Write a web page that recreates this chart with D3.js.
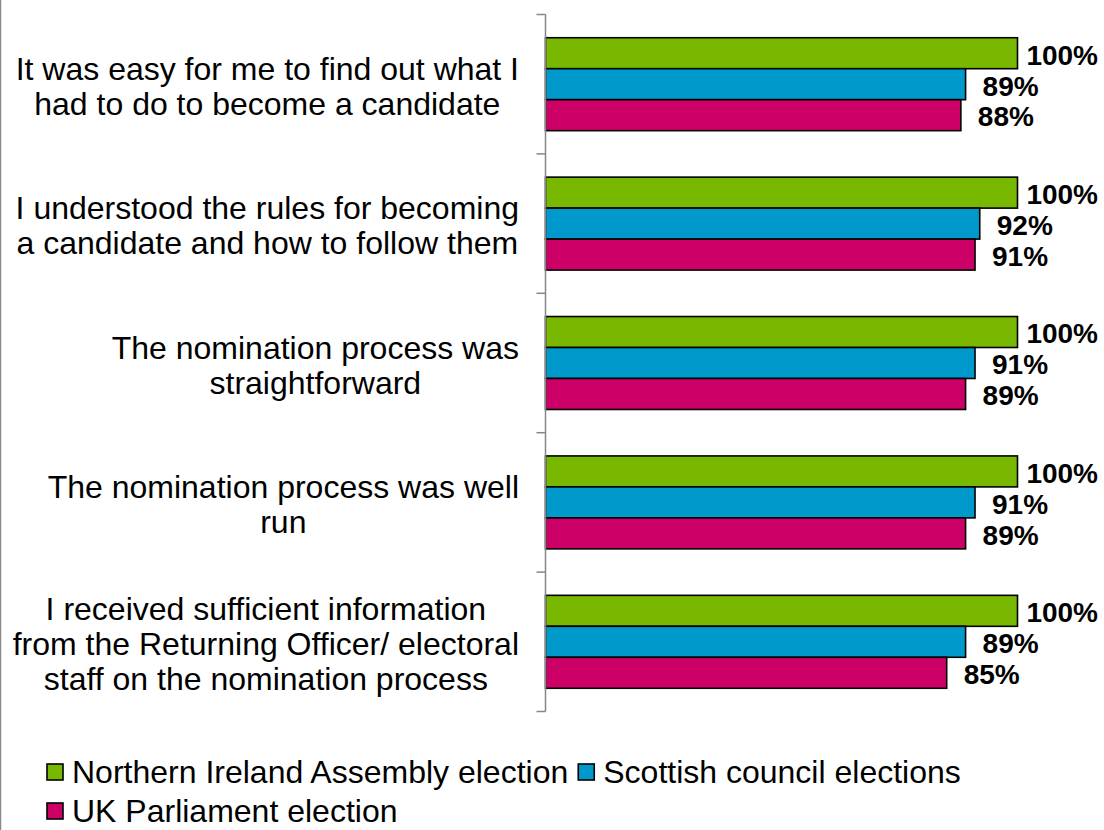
<!DOCTYPE html>
<html>
<head>
<meta charset="utf-8">
<script src="https://cdn.jsdelivr.net/npm/d3@7"></script>
<style>
  html, body { margin: 0; padding: 0; background: #fff; }
  svg { display: block; font-family: "Liberation Sans", Arial, sans-serif; }
</style>
</head>
<body>
<svg id="chart" width="1104" height="830"></svg>
<script>
// Survey statements (each entry is the wrapped lines of one label)
const statements = [
  ["It was easy for me to find out what I", "had to do to become a candidate"],
  ["I understood the rules for becoming", "a candidate and how to follow them"],
  ["The nomination process was", "straightforward"],
  ["The nomination process was well", "run"],
  ["I received sufficient information", "from the Returning Officer/ electoral", "staff on the nomination process"]
];

const seriesNames = [
  "Northern Ireland Assembly election",
  "Scottish council elections",
  "UK Parliament election"
];

// Share agreeing, per statement, for each election
const northernIreland = [1.00, 1.00, 1.00, 1.00, 1.00];
const scottishCouncil = [0.89, 0.92, 0.91, 0.91, 0.89];
const ukParliament   = [0.88, 0.91, 0.89, 0.89, 0.85];

const seriesValues = [northernIreland, scottishCouncil, ukParliament];
const seriesColors = ["#78b800", "#0099cc", "#cc0066"];

const svg = d3.select("#chart");
const W = 1104, H = 830;

// left frame edge of the chart area
svg.append("line")
  .attr("x1", 0.5).attr("x2", 0.5).attr("y1", 0).attr("y2", H)
  .attr("stroke", "#8c8c8c").attr("stroke-width", 1.5);

const axisX = 545.5;
const x = d3.scaleLinear().domain([0, 1]).range([axisX, 1017.5]);

const catIdx = d3.range(statements.length);
const y = d3.scaleBand().domain(catIdx).range([14.5, 711.5]).padding(0);
const ySeries = d3.scaleBand().domain(d3.range(seriesNames.length))
  .range([0, y.bandwidth()]).paddingInner(0).paddingOuter(0.75);

// bars
const groups = svg.append("g").selectAll("g")
  .data(catIdx).join("g")
  .attr("transform", i => `translate(0,${y(i)})`);

groups.selectAll("rect")
  .data(i => seriesValues.map((vals, s) => ({ s, v: vals[i] })))
  .join("rect")
  .attr("x", axisX)
  .attr("y", d => ySeries(d.s))
  .attr("width", d => x(d.v) - axisX)
  .attr("height", ySeries.bandwidth())
  .attr("fill", d => seriesColors[d.s])
  .attr("stroke", "#000")
  .attr("stroke-width", 1.6);

// value labels
const fmt = d3.format(".0%");
groups.selectAll("text.val")
  .data(i => seriesValues.map((vals, s) => ({ s, v: vals[i] })))
  .join("text")
  .attr("class", "val")
  .attr("y", d => ySeries(d.s) + ySeries.bandwidth() / 2 + 1.5)
  .attr("dy", "0.35em")
  .attr("font-size", 28)
  .attr("font-weight", "bold")
  .attr("fill", "#000")
  .text(d => fmt(d.v))
  .each(function (d) {
    const w = this.getComputedTextLength();
    const xPos = Math.min(x(d.v) + 17, 1098 - w);
    d3.select(this).attr("x", xPos);
  });

// category axis: vertical line with ticks at the band boundaries
const axisG = svg.append("g");
axisG.append("line")
  .attr("x1", axisX).attr("x2", axisX)
  .attr("y1", y.range()[0]).attr("y2", y.range()[1])
  .attr("stroke", "#868686").attr("stroke-width", 1.5);
const tickPos = catIdx.map(i => y(i)).concat([y.range()[1]]);
axisG.selectAll("line.tick")
  .data(tickPos).join("line")
  .attr("class", "tick")
  .attr("x1", axisX - 9).attr("x2", axisX)
  .attr("y1", d => d).attr("y2", d => d)
  .attr("stroke", "#868686").attr("stroke-width", 1.5);

// category labels: block right-aligned beside the axis, lines centred within the block
const labelRight = 519;
const lineH = 35;
const labels = svg.append("g").selectAll("g")
  .data(catIdx).join("g");
labels.each(function (i) {
  const g = d3.select(this);
  const lines = statements[i];
  const cy = y(i) + y.bandwidth() / 2 + 2;
  const texts = g.selectAll("text").data(lines).join("text")
    .attr("font-size", 32)
    .attr("fill", "#000")
    .attr("text-anchor", "middle")
    .attr("dy", "0.35em")
    .attr("y", (d, k) => cy + (k - (lines.length - 1) / 2) * lineH)
    .text(d => d);
  let maxW = 0;
  texts.each(function () { maxW = Math.max(maxW, this.getComputedTextLength()); });
  texts.attr("x", labelRight - maxW / 2);
});

// legend
const legend = svg.append("g");
const legendRows = [[0, 1], [2]];
const rowY = [772, 811];
legendRows.forEach((row, r) => {
  let cx = 47;
  row.forEach(s => {
    legend.append("rect")
      .attr("x", cx).attr("y", rowY[r] - 8)
      .attr("width", 16).attr("height", 16)
      .attr("fill", seriesColors[s])
      .attr("stroke", "#000").attr("stroke-width", 1.6);
    const t = legend.append("text")
      .attr("x", cx + 25).attr("y", rowY[r])
      .attr("dy", "0.35em")
      .attr("font-size", 32)
      .attr("fill", "#000")
      .text(seriesNames[s]);
    cx = cx + 25 + t.node().getComputedTextLength() + 10;
  });
});
</script>
</body>
</html>
